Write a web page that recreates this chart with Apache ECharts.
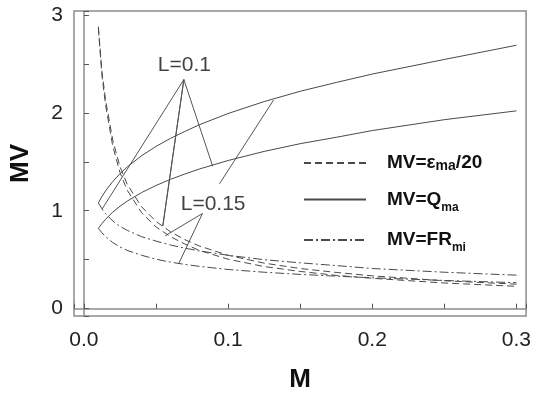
<!DOCTYPE html>
<html>
<head>
<meta charset="utf-8">
<script src="https://cdn.jsdelivr.net/npm/echarts@6/dist/echarts.min.js"></script>
<style>html,body{margin:0;padding:0;background:#fff}#c{width:534px;height:398px}</style>
</head>
<body>
<div id="c"></div>
<script>
// ---- data ----
const M = [0.01, 0.0125, 0.015, 0.02, 0.025, 0.03, 0.04, 0.05, 0.06, 0.07, 0.08, 0.1, 0.125, 0.15, 0.175, 0.2, 0.25, 0.3];
const epsL010 = [2.88, 2.42, 2.13, 1.72, 1.45, 1.27, 1.04, 0.89, 0.785, 0.705, 0.64, 0.545, 0.465, 0.41, 0.37, 0.335, 0.285, 0.25];
const epsL015 = [2.86, 2.38, 2.08, 1.66, 1.39, 1.21, 0.98, 0.835, 0.735, 0.66, 0.595, 0.505, 0.43, 0.38, 0.34, 0.31, 0.262, 0.228];
const qL010 = [0.82, 0.87, 0.913, 0.986, 1.046, 1.098, 1.186, 1.258, 1.321, 1.375, 1.426, 1.513, 1.606, 1.685, 1.75, 1.819, 1.93, 2.02];
const qL015 = [1.08, 1.146, 1.203, 1.299, 1.378, 1.447, 1.562, 1.657, 1.739, 1.81, 1.878, 1.993, 2.115, 2.22, 2.31, 2.396, 2.545, 2.69];
const frL010 = [1.08, 1.02, 0.97, 0.895, 0.84, 0.80, 0.735, 0.69, 0.65, 0.618, 0.59, 0.545, 0.50, 0.468, 0.44, 0.41, 0.372, 0.342];
const frL015 = [0.82, 0.775, 0.735, 0.675, 0.63, 0.595, 0.545, 0.505, 0.475, 0.452, 0.432, 0.40, 0.372, 0.35, 0.332, 0.315, 0.288, 0.265];

const xTicks = [0.0, 0.1, 0.2, 0.3];
const yTicks = [0, 1, 2, 3];

const seriesNames = ['MV=εma/20', 'MV=Qma', 'MV=FRmi'];

// annotation pointer lines (data space): polylines
const annotL010 = [[0.0127, 1.02], [0.0693, 2.34], [0.0547, 0.845], [0.0693, 2.34], [0.0893, 1.455]];
const annotL015a = [[0.0564, 0.745], [0.0822, 0.972], [0.0658, 0.462]];
const annotL015b = [[0.094, 1.275], [0.1315, 2.13]];
const annotTexts = [
  { name: 'L=0.1', value: [0.0697, 2.49] },
  { name: 'L=0.15', value: [0.0896, 1.065] }
];

// ---- chart ----
const zip = (xs, ys) => xs.map((x, i) => [x, ys[i]]);
const CURVE = '#4a4a4a';
const DASH = [7, 4];
const DASHDOT = [9, 3, 2, 3];

function curve(name, ys, type) {
  return {
    type: 'line', name: name, data: zip(M, ys),
    smooth: false, symbol: 'none', showSymbol: false,
    lineStyle: { color: CURVE, width: 1, type: type },
    itemStyle: { color: CURVE },
    silent: true, z: 3
  };
}
function pointer(data) {
  return {
    type: 'line', name: 'annot', data: data, symbol: 'none', showSymbol: false,
    lineStyle: { color: '#555', width: 1 }, silent: true, z: 2
  };
}
const isTick = (v, ticks) => ticks.some(t => Math.abs(v - t) < 1e-6);

const chart = echarts.init(document.getElementById('c'), null, { renderer: 'canvas' });
chart.setOption({
  animation: false,
  backgroundColor: '#fff',
  textStyle: { fontFamily: 'Liberation Sans, Arial, sans-serif' },
  grid: { left: 73, right: 6, top: 11, bottom: 75.5, show: true, borderColor: '#8c8c8c', borderWidth: 1.5, backgroundColor: 'transparent' },
  xAxis: {
    type: 'value', min: -0.0069, max: 0.3067, splitNumber: 6,
    name: 'M', nameLocation: 'middle', nameGap: 51,
    nameTextStyle: { fontSize: 26, fontWeight: 'bold', color: '#111' },
    axisLine: { show: true, lineStyle: { color: '#8c8c8c', width: 1.5 } },
    axisTick: { show: true, inside: true, length: 5, lineStyle: { color: '#555' } },
    splitLine: { show: false },
    axisLabel: { fontSize: 21, color: '#222', margin: 14, formatter: v => isTick(v, xTicks) ? v.toFixed(1) : '' }
  },
  yAxis: {
    type: 'value', min: -0.075, max: 3.04, splitNumber: 6,
    name: 'MV', nameLocation: 'middle', nameGap: 40, nameRotate: 90,
    nameTextStyle: { fontSize: 26, fontWeight: 'bold', color: '#111' },
    axisLine: { show: true, lineStyle: { color: '#8c8c8c', width: 1.5 } },
    axisTick: { show: true, inside: true, length: 5, lineStyle: { color: '#555' } },
    splitLine: { show: false },
    axisLabel: { fontSize: 21, color: '#222', margin: 11, formatter: v => isTick(v, yTicks) ? String(Math.round(v)) : '' }
  },
  legend: {
    data: seriesNames, orient: 'vertical', left: 298, top: 148,
    itemWidth: 62, itemHeight: 12, itemGap: 12.5,
    selectedMode: false,
    itemStyle: { opacity: 0, borderWidth: 0 },
    formatter: function (n) {
      if (n === seriesNames[0]) return '{t|MV=ε}{s1|ma}{t|/20}';
      if (n === seriesNames[1]) return '{t|MV=Q}{s|ma}';
      return '{t|MV=FR}{s|mi}';
    },
    textStyle: {
      color: '#111', padding: [0, 0, 0, 16],
      rich: {
        t: { fontSize: 19, fontWeight: 'bold', color: '#111', lineHeight: 28 },
        s: { fontSize: 12, fontWeight: 'bold', color: '#111', lineHeight: 12, padding: [16, 0, 0, 0] },
        s1: { fontSize: 14, fontWeight: 'bold', color: '#111', lineHeight: 14, padding: [6, 0, 0, 0] }
      }
    }
  },
  series: [
    curve(seriesNames[0], epsL010, DASH),
    curve(seriesNames[0], epsL015, DASH),
    curve(seriesNames[1], qL010, 'solid'),
    curve(seriesNames[1], qL015, 'solid'),
    curve(seriesNames[2], frL010, DASHDOT),
    curve(seriesNames[2], frL015, DASHDOT),
    pointer(annotL010),
    pointer(annotL015a),
    pointer(annotL015b),
    {
      type: 'scatter', name: 'labels', data: annotTexts, symbolSize: 1,
      itemStyle: { color: 'rgba(0,0,0,0)' }, silent: true,
      label: { show: true, position: 'inside', formatter: '{b}', fontSize: 21, color: '#111' }
    }
  ]
});
</script>
</body>
</html>
